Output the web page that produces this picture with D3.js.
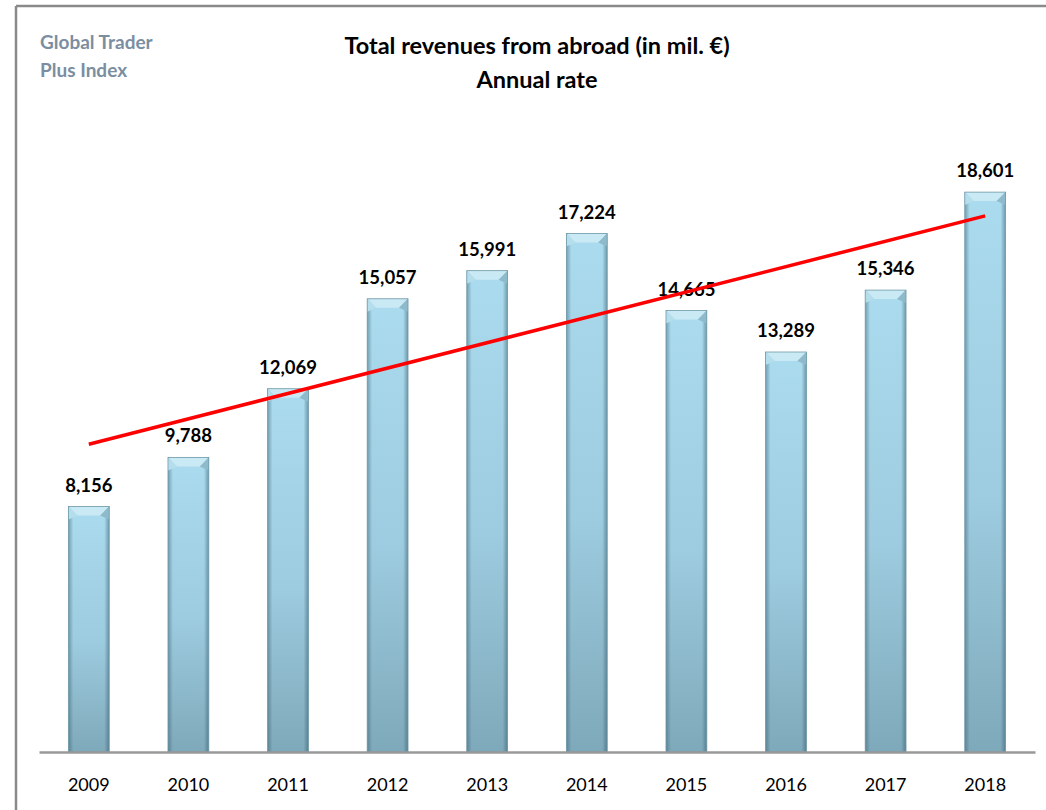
<!DOCTYPE html>
<html>
<head>
    <title>Total revenues from abroad</title>
    <script src="https://cdn.jsdelivr.net/npm/d3@7"></script>
    <style>
        body { margin: 0; background: #fff; }
        text { font-family: Lato, "Open Sans", sans-serif; }
    </style>
</head>
<body>
    <svg width="1046" height="810" id="mainSvg"></svg>
    <script>
        const years = ["2009", "2010", "2011", "2012", "2013", "2014", "2015", "2016", "2017", "2018"];
        const revenues = [8156, 9788, 12069, 15057, 15991, 17224, 14665, 13289, 15346, 18601];
        const titleLines = ["Total revenues from abroad (in mil. €)", "Annual rate"];
        const logoLines = ["Global Trader", "Plus Index"];

        const svg = d3.select("#mainSvg");
        const margin = { top: 150, right: 11, bottom: 58, left: 39 };
        const width = +svg.attr("width"), height = +svg.attr("height");

        const x = d3.scaleBand().domain(years)
            .range([margin.left, width - margin.right])
            .paddingInner(0.59).paddingOuter(0.295);
        const y = d3.scaleLinear().domain([0, 20000])
            .range([height - margin.bottom, margin.top]);

        const defs = svg.append("defs");
        const vg = defs.append("linearGradient").attr("id", "barV")
            .attr("x1", 0).attr("y1", 0).attr("x2", 0).attr("y2", 1);
        vg.append("stop").attr("offset", "0%").attr("stop-color", "#abdbee");
        vg.append("stop").attr("offset", "55%").attr("stop-color", "#9dcbdf");
        vg.append("stop").attr("offset", "100%").attr("stop-color", "#7ea9ba");
        const hg = defs.append("linearGradient").attr("id", "barH")
            .attr("x1", 0).attr("y1", 0).attr("x2", 1).attr("y2", 0);
        [[0, 0.45], [0.12, 0.0], [0.88, 0.0], [1, 0.5]].forEach(([o, a]) => {
            hg.append("stop").attr("offset", o).attr("stop-color", "#2f5566").attr("stop-opacity", a);
        });

        // frame lines
        svg.append("line").attr("x1", 16).attr("x2", width).attr("y1", 6).attr("y2", 6)
            .attr("stroke", "#8a8a8a").attr("stroke-width", 2.5);
        svg.append("line").attr("x1", 16).attr("x2", 16).attr("y1", 6).attr("y2", height)
            .attr("stroke", "#8a8a8a").attr("stroke-width", 2.5);

        // logo
        svg.append("g").selectAll("text").data(logoLines).join("text")
            .attr("x", 40).attr("y", (d, i) => 49 + i * 28)
            .attr("fill", "#7b8ea1").attr("font-weight", "bold").attr("font-size", 19)
            .text(d => d);

        // title
        svg.append("g").selectAll("text").data(titleLines).join("text")
            .attr("x", 537).attr("y", (d, i) => 54 + i * 34)
            .attr("text-anchor", "middle").attr("font-weight", "bold").attr("font-size", 23.5)
            .attr("fill", "#000")
            .text(d => d);

        const bars = svg.append("g").selectAll("g").data(years).join("g");
        const bw = x.bandwidth();
        bars.append("rect")
            .attr("x", d => x(d)).attr("y", (d, i) => y(revenues[i]))
            .attr("width", bw).attr("height", (d, i) => y(0) - y(revenues[i]))
            .attr("fill", "url(#barV)");
        bars.append("rect")
            .attr("x", d => x(d)).attr("y", (d, i) => y(revenues[i]))
            .attr("width", bw).attr("height", (d, i) => y(0) - y(revenues[i]))
            .attr("fill", "url(#barH)");
        // top bevel
        const bev = 9;
        bars.append("polygon")
            .attr("points", (d, i) => {
                const x0 = x(d), x1 = x(d) + bw, t = y(revenues[i]);
                return [[x0, t], [x1, t], [x1 - bev, t + bev], [x0 + bev, t + bev]].join(" ");
            })
            .attr("fill", "#c9e9f4");
        bars.append("polygon")
            .attr("points", (d, i) => {
                const x0 = x(d), t = y(revenues[i]);
                return [[x0, t], [x0 + bev, t + bev], [x0, t + bev + 4]].join(" ");
            })
            .attr("fill", "#b5deed");
        bars.append("polygon")
            .attr("points", (d, i) => {
                const x1 = x(d) + bw, t = y(revenues[i]);
                return [[x1, t], [x1 - bev, t + bev], [x1, t + bev + 4]].join(" ");
            })
            .attr("fill", "#8fbacb");
        bars.append("rect")
            .attr("x", d => x(d)).attr("y", (d, i) => y(revenues[i]))
            .attr("width", bw).attr("height", (d, i) => y(0) - y(revenues[i]))
            .attr("fill", "none").attr("stroke", "#7199a8").attr("stroke-width", 0.8);

        // value labels
        svg.append("g").selectAll("text").data(years).join("text")
            .attr("x", d => x(d) + bw / 2).attr("y", (d, i) => y(revenues[i]) - 15)
            .attr("text-anchor", "middle").attr("font-weight", "bold").attr("font-size", 18.5)
            .text((d, i) => d3.format(",")(revenues[i]));

        // x axis
        const xAxis = svg.append("g").attr("transform", `translate(0,${y(0)})`)
            .call(d3.axisBottom(x).tickSize(0).tickPadding(26));
        xAxis.select(".domain").attr("stroke", "#999").attr("stroke-width", 2.5);
        xAxis.selectAll("text").attr("font-size", 18).attr("fill", "#000")
            .attr("font-family", "Lato, \"Open Sans\", sans-serif");

        // linear trend line
        const xs = revenues.map((v, i) => i + 1);
        const mx = d3.mean(xs), my = d3.mean(revenues);
        const slope = d3.sum(xs, (v, i) => (v - mx) * (revenues[i] - my)) / d3.sum(xs, v => (v - mx) ** 2);
        const icpt = my - slope * mx;
        const trend = years.map((d, i) => [x(d) + bw / 2, y(icpt + slope * (i + 1))]);
        svg.append("path")
            .attr("d", d3.line()([trend[0], trend[trend.length - 1]]))
            .attr("stroke", "#ff0000").attr("stroke-width", 3.5).attr("fill", "none");
    </script>
</body>
</html>
